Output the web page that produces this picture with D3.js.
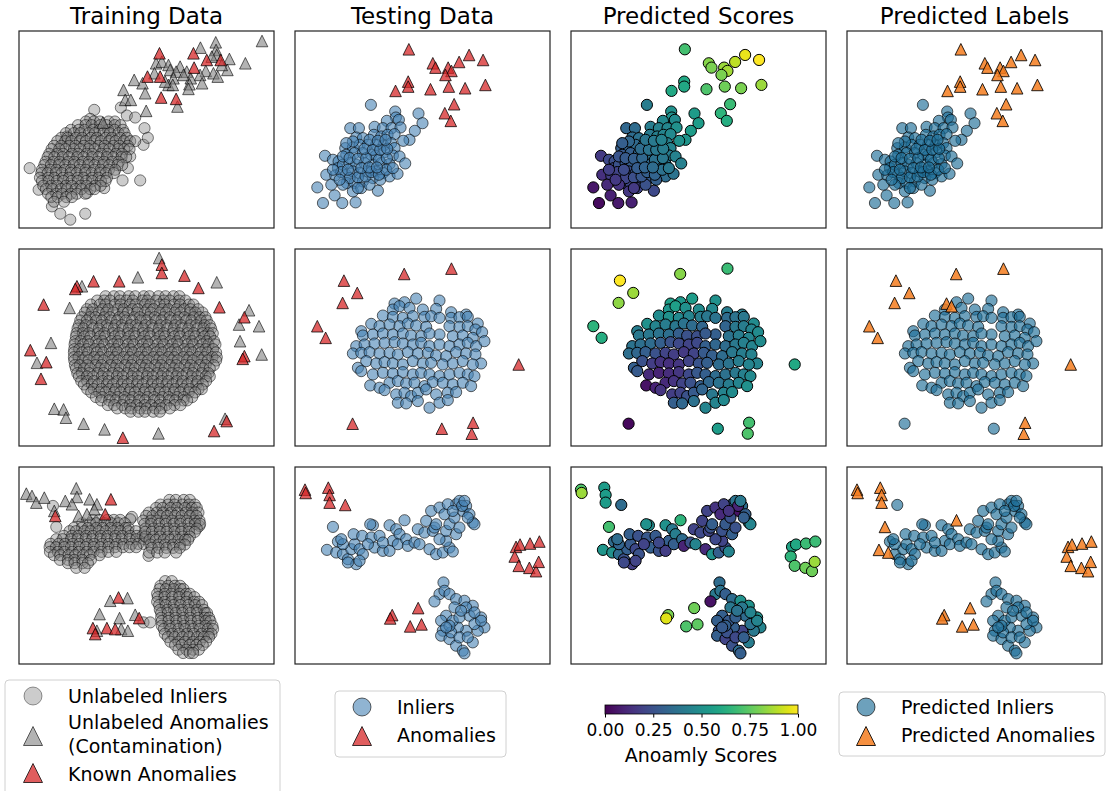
<!DOCTYPE html>
<html><head><meta charset="utf-8">
<script src="https://cdn.jsdelivr.net/npm/d3@7"></script>
<style>
body{margin:0;background:#fff}
svg{display:block;font-family:"DejaVu Sans",sans-serif}
</style>
</head><body>
<svg id="chart" width="1106" height="791"></svg>
<script>
// ---- Column titles and colorbar ticks ----
const titles = ["Training Data", "Testing Data", "Predicted Scores", "Predicted Labels"];
const scoreTicks = [0, 0.25, 0.5, 0.75, 1];
const scoreTickLabels = ["0.00", "0.25", "0.50", "0.75", "1.00"];

// ---- Training sets: feature coordinates (x1, x2), x2 measured downward ----
// Unlabeled inliers, grouped by x2 as [x2, [x1 ...]]
const train1Inliers = [
  [238,[312]],[245,[232]],[262,[330]],[268,[355]],[272,[220]],[300,[383]],[325,[150]],
  [350,[380]],[385,[340]],[420,[38,333]],[457,[317,370]],[480,[262]],[485,[65]],[495,[210]],
  [535,[105]],[557,[130,205]],[575,[160]],
  [280,[207,231,249,275,294]],
  [291,[183,206,224,250,269,294,311]],
  [305,[162,186,203,229,248,274,293,318]],
  [315,[147,171,190,216,234,260,279,305,323]],
  [329,[133,152,177,196,222,240,266,285,310,330,393]],
  [339,[121,145,163,189,207,233,252,277,296,321,340,355]],
  [353,[111,133,157,176,201,220,245,264,290,308,333]],
  [363,[104,127,146,171,190,215,234,260,278,304,322,338]],
  [377,[97,121,139,165,184,209,227,253,272,297,315]],
  [387,[92,112,137,156,181,200,226,245,270,289,314,328]],
  [401,[86,110,128,154,172,198,216,242,261,286,305]],
  [411,[82,102,126,145,170,189,214,233,258,277,302,316]],
  [425,[75,100,118,144,162,188,206,232,251,276,295]],
  [435,[73,92,117,135,161,179,205,224,249,267,291]],
  [449,[69,94,112,138,156,182,200,226,245,270]],
  [459,[75,95,120,139,164,183,208,226,252,266]],
  [473,[79,103,121,147,165,191,209,235,251]],
  [483,[87,106,132,150,176,194,220,233]],
  [497,[93,118,136,162,180,205]],
  [507,[103,122,148,165]],
  [521,[111,141]]
];
const train1Unlabeled = [[736,38],[597,42],[551,58],[598,65],[600,80],[638,92],[686,105],[418,105],[435,100],[455,110],[490,115],[510,130],[460,125],[478,130],[567,128],[590,135],[632,125],[603,145],[550,140],[522,150],[500,140],[470,150],[455,170],[468,170],[518,168],[515,182],[556,165],[352,155],[377,165],[385,195],[320,185],[325,215],[342,215],[388,248],[482,235],[258,283],[413,135],[445,160],[585,85],[615,110]];
const train1Known = [[428,75],[530,75],[570,95],[612,95],[532,118],[392,145],[430,145],[433,208],[478,212]];

const train2Inliers = [
  [150,[266,291,309,336,355,381,398,425,446,470,488]],
  [163,[241,262,280,309,329,348,377,392,418,441,459,487,506]],
  [175,[222,249,266,294,312,339,356,384,401,428,444,472,490,517,530]],
  [189,[210,228,257,274,303,320,347,363,392,410,437,455,480,502,521,544]],
  [199,[204,224,246,268,290,318,333,361,384,402,429,447,474,491,519,536,557]],
  [213,[195,219,236,262,279,307,323,352,369,396,414,441,459,486,503,531,549,566]],
  [223,[190,210,238,255,283,301,327,346,372,389,417,434,462,479,508,524,552,570]],
  [237,[186,207,225,253,270,296,315,341,358,386,404,430,449,475,493,520,538,563,579]],
  [247,[182,200,228,246,273,291,318,336,363,380,408,426,452,471,497,515,542,560,583]],
  [261,[179,198,216,243,262,288,306,333,352,378,396,423,441,468,487,512,531,557,575,588]],
  [271,[177,202,221,249,265,293,311,337,356,382,401,428,445,472,490,517,536,562,580]],
  [285,[175,191,213,238,256,283,302,327,347,372,391,416,437,461,481,506,526,550,570,592]],
  [295,[173,199,217,244,262,289,306,333,351,378,396,422,441,467,485,512,530,557,575,596]],
  [309,[172,187,210,234,252,279,297,322,342,367,386,412,431,456,475,502,520,546,566,589]],
  [319,[171,196,214,240,259,285,303,330,348,374,393,419,437,464,482,509,527,553,572,598]],
  [333,[171,185,207,232,250,276,295,321,339,366,384,410,429,455,473,500,518,544,563,587,600]],
  [343,[172,197,215,241,260,286,304,331,349,375,394,420,438,465,483,510,528,554,573,598]],
  [357,[174,189,211,236,254,281,299,325,344,370,388,415,433,459,478,504,522,549,567,591]],
  [367,[177,201,220,247,265,291,310,336,354,381,399,425,444,470,488,515,533,559,579]],
  [381,[181,195,217,242,260,287,305,331,350,376,394,421,439,465,484,510,528,555,575]],
  [391,[186,210,229,255,274,300,318,345,363,390,408,434,453,479,497,524,542,567,579]],
  [405,[193,211,231,257,275,301,320,346,364,391,409,435,454,480,498,525,543,568]],
  [415,[201,225,244,270,289,315,333,360,378,405,423,449,468,494,512,539,558]],
  [429,[211,230,254,277,297,322,341,366,386,411,430,455,475,500,519,545,555]],
  [439,[223,247,266,292,311,337,355,382,400,427,445,471,490,516,535]],
  [453,[237,256,280,303,323,348,367,392,412,437,456,481,501,526]],
  [463,[253,277,296,322,341,367,385,412,430,457,475,500,511]],
  [477,[273,292,316,339,359,384,403,428,448,473,491]],
  [487,[301,325,344,370,389,415,434,459]],
  [497,[341,365,384,409,429]]
];
const train2Unlabeled = [[427,35],[363,93],[195,120],[600,108],[158,185],[697,192],[667,235],[727,240],[102,290],[60,350],[670,285],[735,325],[112,488],[140,490],[147,515],[200,533],[263,550],[425,562],[625,518]];
const train2Known = [[435,55],[435,80],[180,120],[175,128],[230,105],[307,105],[503,88],[545,125],[608,183],[683,213],[80,175],[40,312],[88,348],[72,398],[683,330],[678,338],[592,555],[630,525],[318,575]];

const train3Inliers = [
  [125,[108]],[158,[345]],[165,[340]],[188,[118]],[185,[548]],[275,[395]],[475,[380,400]],
  [167,[228,247,272,291,310]],
  [177,[196,220,238,263,283,305,324]],
  [191,[171,195,213,238,257,282,302,326,335]],
  [201,[158,177,202,221,246,266,290,310,334,357]],
  [215,[141,165,184,208,228,252,272,296,316,340,360,377]],
  [225,[118,137,162,182,206,226,250,270,294,314,338,358,383]],
  [239,[101,125,144,168,188,212,232,256,276,300,320,344,364,380]],
  [249,[98,117,142,162,186,206,230,250,274,294,318,338,358]],
  [263,[99,123,142,166,186,210,230,254,274,298]],
  [273,[111,130,155,175,199,219,248]],
  [287,[129,153,172,196,222]],
  [297,[153,173,197,213]],
  [311,[178,203]],
  [107,[458,477,501,519]],
  [121,[431,454,473,497,517,534]],
  [131,[418,437,461,481,505,525,540]],
  [145,[396,420,439,463,483,507,527,545]],
  [155,[388,407,431,451,475,495,519,539]],
  [169,[379,403,422,446,466,490,510,534,548]],
  [179,[383,403,427,447,471,491,515,535,550]],
  [193,[386,410,429,453,473,497,517,540]],
  [203,[385,405,429,449,473,493,517,534]],
  [217,[386,410,430,454,474,498,519]],
  [227,[398,417,441,461,485,505,514]],
  [241,[401,425,445,469,489,504]],
  [251,[405,425,449,469,489]],
  [265,[397,421,444,478]],
  [351,[445,465]],
  [365,[431,454,474,490]],
  [375,[428,447,471,491,500]],
  [389,[421,444,464,488,508,519]],
  [399,[423,443,467,487,511,533]],
  [413,[421,444,464,488,508,532,547]],
  [423,[427,447,471,491,515,535,556]],
  [437,[429,452,472,496,516,540,561]],
  [447,[433,453,477,497,521,541,565,571]],
  [461,[433,456,476,500,520,544,564,577]],
  [471,[435,455,479,499,523,543,567,581]],
  [485,[435,458,478,502,522,546,566,587]],
  [495,[441,461,485,505,529,549,573,589]],
  [509,[444,467,487,511,531,555,575,584]],
  [519,[453,473,497,517,541,561,577]],
  [533,[461,485,505,529,549,568]],
  [543,[475,495,519,539,558]],
  [557,[485,509,529,546]],
  [567,[499,519,529]]
];
const train3Unlabeled = [[28,88],[45,95],[58,115],[82,100],[145,110],[178,72],[180,98],[165,120],[218,105],[240,120],[232,135],[185,155],[210,150],[112,140],[280,410],[332,402],[248,450],[308,462],[355,452],[240,500],[313,495],[333,500]];
const train3Known = [[282,105],[265,150],[115,155],[305,400],[367,462],[228,492],[235,510],[270,492],[295,495]];

// ---- Test sets: [x1, x2, anomaly score, predicted anomaly (1) or inlier (0)] ----
const test1Inliers = [[234,230,.42],[307,250,.5],[309,268,.5],[377,256,.55],[389,285,.55],[318,275,.48],[282,278,.47],[172,300,.33],[198,300,.35],[245,296,.42],[270,300,.44],[296,300,.46],[323,298,.5],[366,308,.55],[350,335,.52],[331,338,.5],[190,328,.35],[210,330,.37],[243,320,.41],[265,325,.43],[284,320,.45],[305,318,.47],[157,360,.3],[180,358,.32],[200,350,.34],[225,350,.37],[250,350,.4],[272,352,.42],[295,345,.44],[305,360,.45],[96,383,.17],[120,395,.22],[137,400,.24],[160,380,.28],[185,375,.3],[210,375,.33],[235,380,.36],[248,383,.37],[275,372,.4],[300,382,.42],[320,385,.44],[337,406,.43],[135,420,.22],[150,410,.25],[170,405,.27],[190,410,.29],[215,405,.31],[240,410,.34],[265,405,.36],[290,408,.39],[100,440,.14],[127,442,.18],[160,440,.21],[180,430,.24],[200,435,.27],[225,430,.3],[250,430,.32],[270,435,.34],[290,445,.35],[314,437,.38],[162,465,.19],[185,465,.21],[210,460,.24],[240,450,.28],[262,455,.3],[73,478,.06],[125,502,.09],[148,525,.07],[90,525,.03],[188,523,.09],[255,488,.22],[180,490,.16],[205,480,.2],[230,470,.25],
  [150,385,.26],[170,390,.28],[195,392,.3],[220,390,.33],[258,395,.37],[282,390,.4],[145,432,.2],[170,450,.21],[195,448,.24],[218,445,.27],[235,432,.3],[258,440,.32],[280,425,.37],[300,420,.4],[165,425,.23],[205,420,.29],[228,418,.32],[252,418,.35],[180,340,.33],[215,362,.35],[240,365,.38],[262,365,.4],[283,362,.42],[230,335,.39],[255,338,.41],[278,335,.44],[195,480,.17],[150,470,.15],[115,470,.12],[140,455,.17],[120,425,.19],[160,345,.3]];
const test1Anomalies = [[348,63,.7,1],[420,105,.82,1],[428,118,.8,1],[466,118,.85,1],[476,128,.86,1],[458,140,.8,1],[499,101,.9,1],[529,80,.97,1],[571,95,1,1],[346,160,.6,1],[346,175,.6,1],[308,188,.6,1],[413,183,.72,1],[468,175,.78,1],[517,180,.8,1],[578,170,.85,1],[484,228,.68,1],[456,255,.65,1],[474,278,.62,1]];

const test2Inliers = [[305,172,.56,1],[335,168,.53],[370,157,.55],[440,163,.5],[300,190,.52],[320,180,.56,1],[350,185,.5],[390,190,.48],[430,188,.47],[475,198,.42],[520,205,.43],[270,208,.48],[300,212,.5],[330,215,.47],[360,210,.45],[395,212,.42],[415,210,.4],[440,215,.38],[475,215,.35],[500,213,.38],[525,212,.4],[555,232,.48],[205,255,.42],[235,233,.5],[260,240,.45],[290,235,.42],[320,240,.4],[345,232,.38],[370,238,.35],[400,242,.33],[440,265,.3],[470,240,.32],[500,242,.4],[525,240,.42],[548,250,.45],[210,268,.4],[240,265,.4],[270,262,.38],[300,265,.36],[330,262,.3],[355,268,.25],[385,270,.24],[410,262,.28],[480,270,.38],[510,268,.42],[540,275,.45],[568,258,.48],[190,300,.38],[215,295,.36],[245,292,.35],[275,290,.3],[305,288,.25],[330,292,.22],[360,295,.2],[385,290,.22],[410,300,.3],[440,295,.33],[470,300,.35],[500,295,.4],[525,290,.43],[550,300,.45],[575,285,.48],[180,322,.36],[205,320,.33],[230,318,.3],[260,322,.25],[290,320,.2],[315,325,.18],[345,318,.17],[375,322,.2],[405,320,.28],[430,328,.3],[460,330,.35],[490,318,.4],[520,322,.42],[548,325,.44],[565,352,.45],[195,365,.3],[220,345,.25],[250,352,.18],[275,348,.15],[300,352,.14],[330,355,.16],[360,345,.2],[390,352,.26],[415,350,.3],[450,355,.35],[480,352,.38],[510,345,.42],[540,355,.45],[205,375,.28],[240,385,.12],[270,380,.1],[300,382,.13],[330,378,.16],[360,385,.22],[385,380,.27],[410,385,.3],[440,390,.35],[470,385,.37],[500,380,.4],[525,385,.43],[545,390,.47],[232,418,.05],[260,425,.1],[290,410,.12],[315,405,.15],[340,412,.2],[365,410,.25],[395,420,.3],[420,408,.33],[450,410,.38],[480,415,.42],[510,410,.45],[535,420,.5],[275,432,.15],[310,445,.18],[335,440,.2],[355,450,.25],[375,440,.28],[400,430,.32],[430,445,.4],[465,440,.45],[490,438,.48],[315,470,.3],[340,472,.33],[375,465,.37],[410,485,.45],[440,470,.45],[465,462,.47]];
const test2Anomalies = [[153,103,1,1],[193,140,.85,1],[149,170,.83,1],[73,240,.65,1],[98,275,.62,1],[334,83,.82,1],[476,67,.68,1],[678,355,.6,1],[179,533,.02,0],[447,548,.55,0],[541,530,.7,1],[537,563,.72,1]];

const test3Inliers = [[120,188,.7,1],[135,232,.35],[102,257,.52,1],[130,265,.5,1],[150,270,.35],[165,285,.25],[175,255,.3],[185,240,.28],[200,255,.22],[210,270,.25],[190,300,.18],[200,290,.2],[165,295,.22],[182,210,.3],[208,215,.25],[235,220,.27],[245,250,.3],[270,260,.25],[240,183,.48],[232,180,.5],[290,183,.5],[310,195,.4],[300,230,.3],[290,260,.18],[320,210,.42],[315,240,.3],[335,168,.65,1],[340,225,.35],[345,245,.1],[365,235,.25],[380,240,.45],[375,195,.2],[395,205,.22],[410,255,.12],[430,270,.5],[450,265,.3],[470,250,.25],[480,262,.45],[460,230,.2],[440,225,.22],[420,200,.2],[425,190,.25],[400,170,.2],[415,140,.2],[440,130,.15],[455,150,.12],[430,180,.3],[460,200,.25],[470,180,.28],[490,210,.3],[500,190,.25],[510,140,.05],[490,120,.3],[500,110,.38],[520,125,.35],[530,150,.3],[540,175,.48],[545,180,.45],[525,160,.3],[485,160,.25],[465,120,.2],[508,125,.1],[515,110,.4],[480,140,.15],[260,215,.28],[270,235,.22],[225,240,.2],[150,240,.32],[145,225,.35],
  [452,355,.35],[440,390,.4],[425,412,.05],[455,380,.38],[470,390,.3],[490,405,.35],[515,410,.5],[540,425,.5],[565,460,.5],[575,490,.45],[485,430,.4],[460,455,.3],[445,470,.3],[450,500,.25],[445,515,.3],[470,525,.2],[490,545,.25],[510,560,.35],[515,568,.3],[540,535,.42],[555,500,.4],[520,500,.2],[495,490,.3],[480,470,.28],[530,455,.35],[500,460,.3],[520,430,.4],[545,480,.38],[475,505,.25],[500,520,.22],[525,520,.3],[565,470,.45],[545,445,.45],[505,440,.38],[470,485,.3],[460,490,.28]];
const test3Anomalies = [[36,76,.72,1],[38,86,.85,1],[106,70,.55,1],[110,92,.55,1],[110,115,.55,1],[157,122,.35,0],[670,248,.58,1],[682,241,.6,1],[712,238,.68,1],[740,232,.68,1],[666,277,.65,1],[678,305,.72,1],[710,311,.78,1],[730,321,.78,1],[738,293,.85,1],[298,453,.8,1],[292,463,.95,1],[376,432,.78,1],[352,487,.72,1],[386,481,.75,1]];

// ---- Layout ----
const svg = d3.select("#chart");
const colX = [19, 295, 571, 847], rowY = [31, 249, 467];
const PW = 255, PH = 197;
const x = d3.scaleLinear().domain([6, 772]).range([0, PW]);
const y = d3.scaleLinear().domain([8, 600]).range([0, PH]);
const score = d3.scaleSequential(d3.interpolateViridis).domain([0, 1]);

const R = 5.6, TRI = 11.6;
const triPath = s => `M0,${-s/2}L${s/2},${s/2}L${-s/2},${s/2}Z`;
const flat = rows => rows.flatMap(([yy, xs]) => xs.map(xx => [xx, yy]));

const COLORS = {
  grey: "#808080", red: "#d62728", blue: "#4682b4",
  predIn: "#1f6f98", predOut: "#f57d1f"
};

svg.append("defs").append("clipPath").attr("id", "panelClip")
  .append("rect").attr("width", PW).attr("height", PH);

function panel(col, row) {
  const g = svg.append("g").attr("transform", `translate(${colX[col]},${rowY[row]})`);
  const inner = g.append("g").attr("clip-path", "url(#panelClip)");
  return {g, inner};
}
function circles(sel, data, fill, alpha, strokeAlpha) {
  sel.append("g").selectAll("circle").data(data).join("circle")
    .attr("cx", d => x(d[0])).attr("cy", d => y(d[1])).attr("r", R)
    .attr("fill", typeof fill === "function" ? fill : () => fill)
    .attr("fill-opacity", alpha)
    .attr("stroke", "#000").attr("stroke-opacity", strokeAlpha ?? alpha).attr("stroke-width", 1);
}
function triangles(sel, data, fill, alpha) {
  sel.append("g").selectAll("path").data(data).join("path")
    .attr("d", triPath(TRI))
    .attr("transform", d => `translate(${x(d[0])},${y(d[1])})`)
    .attr("fill", fill).attr("fill-opacity", alpha)
    .attr("stroke", "#000").attr("stroke-opacity", alpha).attr("stroke-width", 1);
}
function frame(g) {
  g.append("rect").attr("width", PW).attr("height", PH)
    .attr("fill", "none").attr("stroke", "#222").attr("stroke-width", 1.2);
}

const trainSets = [
  [train1Inliers, train1Unlabeled, train1Known],
  [train2Inliers, train2Unlabeled, train2Known],
  [train3Inliers, train3Unlabeled, train3Known]
];
const testSets = [
  [test1Inliers, test1Anomalies],
  [test2Inliers, test2Anomalies],
  [test3Inliers, test3Anomalies]
];

trainSets.forEach(([inl, unl, known], r) => {
  const {g, inner} = panel(0, r);
  circles(inner, flat(inl), COLORS.grey, 0.4, 0.5);
  triangles(inner, unl, COLORS.grey, 0.6);
  triangles(inner, known, COLORS.red, 0.75);
  frame(g);
});

testSets.forEach(([inl, anom], r) => {
  // Testing data
  let p = panel(1, r);
  circles(p.inner, inl, COLORS.blue, 0.6);
  triangles(p.inner, anom, COLORS.red, 0.75);
  frame(p.g);
  // Predicted scores
  p = panel(2, r);
  circles(p.inner, inl.concat(anom), d => score(d[2]), 1);
  frame(p.g);
  // Predicted labels
  const all = inl.concat(anom);
  p = panel(3, r);
  circles(p.inner, all.filter(d => !d[3]), COLORS.predIn, 0.65);
  triangles(p.inner, all.filter(d => d[3]), COLORS.predOut, 0.85);
  frame(p.g);
});

// ---- Titles ----
titles.forEach((t, i) => {
  svg.append("text").attr("x", colX[i] + PW / 2).attr("y", 24)
    .attr("text-anchor", "middle").attr("font-size", 23).attr("fill", "#000").text(t);
});

// ---- Legends ----
function legendBox(x0, y0, w, h) {
  svg.append("rect").attr("x", x0).attr("y", y0).attr("width", w).attr("height", h)
    .attr("rx", 4).attr("fill", "#fff").attr("fill-opacity", 0.8)
    .attr("stroke", "#d0d0d0").attr("stroke-width", 1);
}
function legendCircle(cx, cy, fill, alpha) {
  svg.append("circle").attr("cx", cx).attr("cy", cy).attr("r", 9)
    .attr("fill", fill).attr("fill-opacity", alpha)
    .attr("stroke", "#000").attr("stroke-opacity", alpha).attr("stroke-width", 1);
}
function legendTri(cx, cy, fill, alpha) {
  svg.append("path").attr("d", triPath(19)).attr("transform", `translate(${cx},${cy})`)
    .attr("fill", fill).attr("fill-opacity", alpha)
    .attr("stroke", "#000").attr("stroke-opacity", alpha).attr("stroke-width", 1);
}
function legendText(tx, ty, s) {
  svg.append("text").attr("x", tx).attr("y", ty).attr("dy", "0.35em")
    .attr("font-size", 19).attr("fill", "#000").text(s);
}

legendBox(5, 680, 275, 130);
legendCircle(33, 696, COLORS.grey, 0.4);
legendText(68, 696, "Unlabeled Inliers");
legendTri(33, 736, COLORS.grey, 0.6);
legendText(68, 722, "Unlabeled Anomalies");
legendText(68, 746, "(Contamination)");
legendTri(33, 773, COLORS.red, 0.75);
legendText(68, 774, "Known Anomalies");

legendBox(335, 691, 171, 66);
legendCircle(362, 707, COLORS.blue, 0.6);
legendText(397, 707, "Inliers");
legendTri(362, 736, COLORS.red, 0.75);
legendText(397, 735, "Anomalies");

legendBox(839, 692, 266, 64);
legendCircle(866, 707, COLORS.predIn, 0.65);
legendText(901, 707, "Predicted Inliers");
legendTri(866, 736, COLORS.predOut, 0.85);
legendText(901, 735, "Predicted Anomalies");

// ---- Colorbar ----
const cbX = d3.scaleLinear().domain([0, 1]).range([605, 798]);
const grad = svg.select("defs").append("linearGradient").attr("id", "viridisGrad");
d3.range(0, 1.0001, 0.05).forEach(t => {
  grad.append("stop").attr("offset", t).attr("stop-color", d3.interpolateViridis(t));
});
svg.append("rect").attr("x", 605).attr("y", 705).attr("width", 193).attr("height", 9)
  .attr("fill", "url(#viridisGrad)").attr("stroke", "#000").attr("stroke-width", 0.8);
const cbAxis = d3.axisBottom(cbX).tickValues(scoreTicks)
  .tickFormat((d, i) => scoreTickLabels[i]).tickSize(3.5).tickPadding(6);
const ax = svg.append("g").attr("transform", "translate(0,714)").call(cbAxis);
ax.select(".domain").remove();
ax.selectAll("text").attr("font-size", 17).attr("font-family", "DejaVu Sans").attr("fill", "#000");
ax.selectAll("line").attr("stroke", "#000");
svg.append("text").attr("x", 701).attr("y", 762).attr("text-anchor", "middle")
  .attr("font-size", 19).attr("fill", "#000").text("Anoamly Scores");
</script>
</body></html>
